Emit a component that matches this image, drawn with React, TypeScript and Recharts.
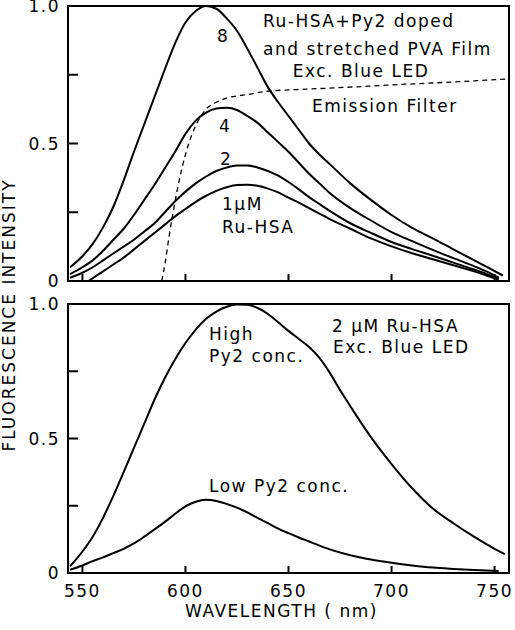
import React from 'react';
import { LineChart, Line, XAxis, YAxis, ReferenceArea } from 'recharts';

const FONT = '"DejaVu Sans", sans-serif';

// top panel: Ru-HSA + Py2 doped PVA film, 1 / 2 / 4 / 8 uM
const wl8 = [544, 550, 555, 560, 565, 570, 575, 580, 585, 590, 595, 600, 605, 610, 615, 620, 625, 630, 635, 640, 645, 650, 655, 660, 665, 670, 680, 690, 700, 710, 720, 730, 740, 746, 754];
const int8 = [0.05, 0.09, 0.135, 0.195, 0.27, 0.365, 0.47, 0.57, 0.67, 0.77, 0.865, 0.94, 0.982, 1.0, 0.99, 0.955, 0.91, 0.845, 0.775, 0.705, 0.65, 0.6, 0.55, 0.5, 0.46, 0.425, 0.355, 0.295, 0.24, 0.193, 0.155, 0.115, 0.076, 0.052, 0.02];

const wl4 = [544, 550, 555, 560, 565, 570, 575, 580, 585, 590, 595, 600, 605, 610, 615, 620, 625, 630, 635, 640, 645, 650, 655, 660, 665, 670, 680, 690, 700, 710, 720, 730, 740, 746, 752];
const int4 = [0.025, 0.05, 0.075, 0.11, 0.15, 0.19, 0.24, 0.295, 0.35, 0.41, 0.47, 0.535, 0.583, 0.612, 0.627, 0.63, 0.622, 0.6, 0.575, 0.54, 0.505, 0.47, 0.43, 0.39, 0.355, 0.32, 0.265, 0.22, 0.178, 0.145, 0.113, 0.083, 0.054, 0.035, 0.012];

const wl2 = [544, 550, 555, 560, 565, 570, 575, 580, 585, 590, 595, 600, 605, 610, 615, 620, 625, 630, 635, 640, 645, 650, 655, 660, 665, 670, 680, 690, 700, 710, 720, 730, 740, 746, 752];
const int2 = [0.012, 0.03, 0.05, 0.075, 0.1, 0.125, 0.15, 0.18, 0.21, 0.25, 0.29, 0.325, 0.355, 0.38, 0.4, 0.413, 0.42, 0.42, 0.413, 0.4, 0.383, 0.36, 0.333, 0.305, 0.28, 0.255, 0.21, 0.175, 0.142, 0.116, 0.092, 0.067, 0.042, 0.026, 0.008];

const wl1 = [553, 560, 565, 570, 575, 580, 585, 590, 595, 600, 605, 610, 615, 620, 625, 630, 635, 640, 645, 650, 655, 660, 665, 670, 680, 690, 700, 710, 720, 730, 740, 746, 752];
const int1 = [0, 0.035, 0.06, 0.085, 0.115, 0.145, 0.175, 0.205, 0.235, 0.262, 0.288, 0.31, 0.328, 0.341, 0.349, 0.35, 0.346, 0.336, 0.322, 0.303, 0.285, 0.265, 0.245, 0.225, 0.19, 0.155, 0.126, 0.101, 0.079, 0.057, 0.035, 0.02, 0.005];

// emission filter transmission (dashed)
const wlFilter = [588.5, 590, 592, 594, 596, 598, 600, 603, 606, 610, 615, 620, 630, 640, 660, 680, 700, 720, 740, 757];
const filterT = [0, 0.06, 0.16, 0.25, 0.33, 0.4, 0.46, 0.53, 0.58, 0.625, 0.65, 0.665, 0.678, 0.69, 0.698, 0.705, 0.713, 0.72, 0.728, 0.735];

// bottom panel: 2 uM Ru-HSA, high / low Py2
const wlHigh = [544, 550, 555, 560, 565, 570, 575, 580, 585, 590, 595, 600, 605, 610, 615, 620, 625, 630, 635, 640, 645, 650, 655, 660, 665, 670, 675, 680, 690, 700, 710, 720, 730, 740, 750, 755];
const highPy2 = [0.025, 0.08, 0.135, 0.205, 0.287, 0.375, 0.465, 0.555, 0.645, 0.725, 0.795, 0.855, 0.905, 0.945, 0.972, 0.99, 0.998, 0.997, 0.985, 0.963, 0.932, 0.9, 0.87, 0.84, 0.8, 0.745, 0.68, 0.62, 0.505, 0.405, 0.315, 0.24, 0.185, 0.135, 0.09, 0.07];

const wlLow = [544, 550, 555, 560, 565, 570, 575, 580, 585, 590, 595, 600, 605, 610, 615, 620, 625, 630, 635, 640, 645, 650, 655, 660, 665, 670, 680, 690, 700, 710, 720, 730, 740, 752];
const lowPy2 = [0.012, 0.028, 0.044, 0.058, 0.074, 0.09, 0.11, 0.135, 0.162, 0.19, 0.22, 0.248, 0.265, 0.272, 0.268, 0.257, 0.243, 0.225, 0.205, 0.185, 0.165, 0.148, 0.132, 0.117, 0.102, 0.088, 0.066, 0.05, 0.038, 0.028, 0.02, 0.015, 0.011, 0.007];

const X_MIN = 543;
const X_MAX = 757;
const xTicks = [550, 600, 650, 700, 750];
const yTicks = [0, 0.25, 0.5, 0.75, 1];
const yTickLabels: Record<number, string> = { 0: '0', 0.5: '0.5', 1: '1.0' };

// plot boxes (px) – must match the chart margins below
const PLOT_L = 68;
const PLOT_R = 509;
const TOP_BOX = { top: 6, bottom: 281 };
const BOT_BOX = { top: 304, bottom: 573 };

const zip = (xs: number[], ys: number[]) => xs.map((wl, i) => ({ wl, v: ys[i] }));
const xPix = (v: number) => PLOT_L + ((v - X_MIN) / (X_MAX - X_MIN)) * (PLOT_R - PLOT_L);
const yPix = (box: { top: number; bottom: number }, v: number) => box.bottom - v * (box.bottom - box.top);

const txt = { fontFamily: FONT, fontSize: 17, letterSpacing: 1.5, fill: '#000' };

function XTick({ x, y, payload, showLabel }: any) {
  if (!showLabel) return <g />;
  return (
    <text x={x} y={y} dy="0.71em" textAnchor="middle" {...txt}>
      {payload.value}
    </text>
  );
}

function YTick({ x, y, payload }: any) {
  return (
    <text x={x} y={y} dy="0.36em" textAnchor="end" {...txt}>
      {yTickLabels[payload.value] ?? ''}
    </text>
  );
}

function Panel({ height, margin, xLabels, children }: any) {
  return (
    <LineChart width={515} height={height} margin={margin}>
      <XAxis
        type="number"
        dataKey="wl"
        domain={[X_MIN, X_MAX]}
        ticks={xTicks}
        axisLine={false}
        tickLine={false}
        tickSize={0}
        tickMargin={12}
        tick={<XTick showLabel={xLabels} />}
        interval={0}
        height={xLabels ? 30 : 10}
      />
      <YAxis
        type="number"
        dataKey="v"
        domain={[0, 1]}
        ticks={yTicks}
        axisLine={false}
        tickLine={false}
        tickSize={0}
        tickMargin={8}
        tick={<YTick />}
        interval={0}
        width={60}
      />
      <ReferenceArea x1={X_MIN} x2={X_MAX} y1={0} y2={1} fill="none" stroke="#000" strokeWidth={2} />
      {children}
    </LineChart>
  );
}

// inward tick marks for one panel
function TickMarks({ box }: any) {
  return (
    <g stroke="#000" strokeWidth={2}>
      {yTicks.slice(1, -1).map((t) => (
        <line key={'y' + t} x1={PLOT_L} x2={PLOT_L + 10} y1={yPix(box, t)} y2={yPix(box, t)} />
      ))}
      {xTicks.map((t) => (
        <line key={'x' + t} x1={xPix(t)} x2={xPix(t)} y1={box.bottom} y2={box.bottom - 7} />
      ))}
    </g>
  );
}

const lineProps = { dataKey: 'v', type: 'monotone' as const, stroke: '#000', strokeWidth: 2, dot: false, isAnimationActive: false };

export default function App() {
  return (
    <div style={{ position: 'absolute', left: 0, top: 0, width: 515, height: 630, background: '#fff' }}>
      <div style={{ position: 'absolute', left: 0, top: 0 }}>
        <Panel height={300} margin={{ top: TOP_BOX.top, right: 515 - PLOT_R, bottom: 300 - TOP_BOX.bottom - 10, left: PLOT_L - 60 }} xLabels={false}>
          <Line {...lineProps} data={zip(wlFilter, filterT)} strokeWidth={1.3} strokeDasharray="5 4" />
          <Line {...lineProps} data={zip(wl8, int8)} />
          <Line {...lineProps} data={zip(wl4, int4)} />
          <Line {...lineProps} data={zip(wl2, int2)} />
          <Line {...lineProps} data={zip(wl1, int1)} />
        </Panel>
      </div>
      <div style={{ position: 'absolute', left: 0, top: 290 }}>
        <Panel height={340} margin={{ top: BOT_BOX.top - 290, right: 515 - PLOT_R, bottom: 630 - BOT_BOX.bottom - 30, left: PLOT_L - 60 }} xLabels>
          <Line {...lineProps} data={zip(wlHigh, highPy2)} />
          <Line {...lineProps} data={zip(wlLow, lowPy2)} />
        </Panel>
      </div>
      <svg width={515} height={630} style={{ position: 'absolute', left: 0, top: 0, pointerEvents: 'none' }}>
        <TickMarks box={TOP_BOX} />
        <TickMarks box={BOT_BOX} />
        <g {...txt}>
          <text x={263} y={27}>Ru-HSA+Py2 doped</text>
          <text x={263} y={55}>and stretched PVA Film</text>
          <text x={361} y={77} textAnchor="middle">Exc. Blue LED</text>
          <text x={312} y={112}>Emission Filter</text>
          <text x={217} y={42}>8</text>
          <text x={219} y={132}>4</text>
          <text x={220} y={165}>2</text>
          <text x={222} y={210}>1μM</text>
          <text x={222} y={233}>Ru-HSA</text>

          <text x={209} y={340}>High</text>
          <text x={209} y={362}>Py2 conc.</text>
          <text x={209} y={492}>Low Py2 conc.</text>
          <text x={332} y={332}>2 μM Ru-HSA</text>
          <text x={333} y={353}>Exc. Blue LED</text>

          <text x={185} y={617}>WAVELENGTH ( nm)</text>
          <text x={15} y={315} textAnchor="middle" transform="rotate(-90 15 315)" letterSpacing={2}>
            FLUORESCENCE  INTENSITY
          </text>
        </g>
      </svg>
    </div>
  );
}
